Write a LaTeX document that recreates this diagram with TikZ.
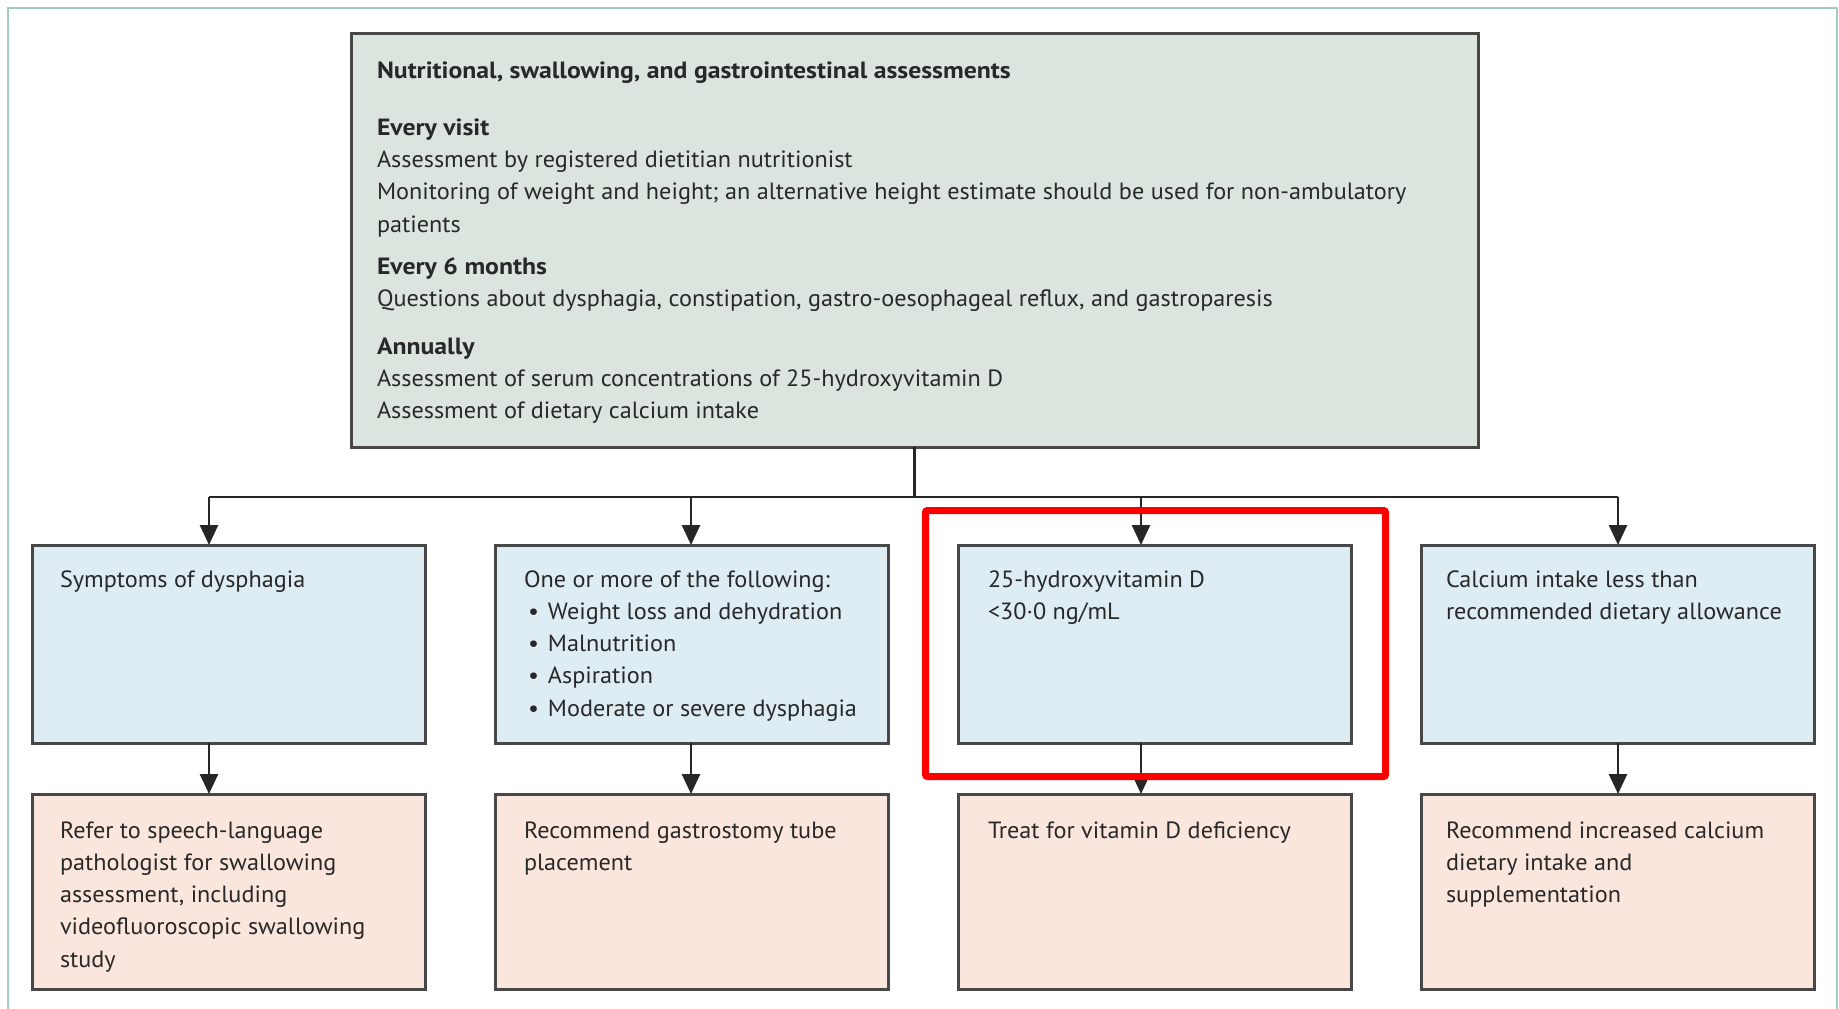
\documentclass[tikz,border=0pt]{standalone}
\usepackage{fontspec}
\setmainfont{PT Sans}[FakeStretch=1.03,BoldFeatures={FakeStretch=1.095}]
\usetikzlibrary{arrows.meta}

\definecolor{framecol}{RGB}{160,205,195}
\definecolor{topfill}{RGB}{219,229,221}
\definecolor{condfill}{RGB}{221,237,243}
\definecolor{actfill}{RGB}{251,230,221}
\definecolor{boxline}{RGB}{72,72,72}
\definecolor{inkcol}{RGB}{40,40,40}
\definecolor{markred}{RGB}{255,0,0}

% invisible strut fixing the height above the first baseline
\newcommand{\lnstrut}{\rule{0pt}{20pt}}
\newcommand{\bul}{\hspace*{4pt}\makebox[20pt][l]{•}}

\begin{document}
\begin{tikzpicture}[x=1pt,y=-1pt,
  every node/.style={inner sep=0pt,outer sep=0pt},
  panel/.style={draw=boxline,line width=3pt,rectangle,anchor=north west},
  topbox/.style={panel,fill=topfill,minimum width=1127pt,minimum height=414pt},
  condbox/.style={panel,fill=condfill,minimum width=393pt,minimum height=198pt},
  actbox/.style={panel,fill=actfill,minimum width=393pt,minimum height=195pt},
  txt/.style={anchor=north west,align=left,text=inkcol,
    font=\fontsize{23.5}{32.3}\selectfont},
  conn/.style={draw=black!85,line width=2.6pt},
  arr/.style={conn,-{Triangle[width=18pt,length=20pt]}},
  highlight/.style={draw=markred,line width=7pt,rounded corners=2pt}
]
\useasboundingbox (0,0) rectangle (1839,1009);

% outer frame, open at the bottom
\draw[framecol,line width=2pt] (8,1009) -- (8,8) -- (1837,8) -- (1837,1009);

% top assessment box
\node[topbox] (top) at (351,33) {};
\node[txt] (toptext) at ([shift={(26,25)}]top.north west) {\lnstrut\textbf{Nutritional, swallowing, and gastrointestinal assessments}\\[25pt]
\textbf{Every visit}\\
Assessment by registered dietitian nutritionist\\
Monitoring of weight and height; an alternative height estimate should be used for non-ambulatory\\
patients\\[10pt]
\textbf{Every 6 months}\\
Questions about dysphagia, constipation, gastro-oesophageal reflux, and gastroparesis\\[15pt]
\textbf{Annually}\\
Assessment of serum concentrations of 25-hydroxyvitamin D\\
Assessment of dietary calcium intake};

% condition boxes
\node[condbox] (c1) at (32,545) {};
\node[condbox] (c2) at (495,545) {};
\node[condbox] (c3) at (958,545) {};
\node[condbox] (c4) at (1421,545) {};

% action boxes
\node[actbox] (a1) at (32,794) {};
\node[actbox] (a2) at (495,794) {};
\node[actbox] (a3) at (958,794) {};
\node[actbox] (a4) at (1421,794) {};

% texts of the condition boxes
\node[txt] (c1t) at ([shift={(28,22)}]c1.north west) {\lnstrut Symptoms of dysphagia};
\node[txt] (c2t) at ([shift={(29,22)}]c2.north west) {\lnstrut One or more of the following:\\
\bul Weight loss and dehydration\\
\bul Malnutrition\\
\bul Aspiration\\
\bul Moderate or severe dysphagia};
\node[txt] (c3t) at ([shift={(30,22)}]c3.north west) {\lnstrut 25-hydroxyvitamin D\\
<30·0 ng/mL};
\node[txt] (c4t) at ([shift={(25,22)}]c4.north west) {\lnstrut Calcium intake less than\\
recommended dietary allowance};

% texts of the action boxes
\node[txt] (a1t) at ([shift={(28,24)}]a1.north west) {\lnstrut Refer to speech-language\\
pathologist for swallowing\\
assessment, including\\
videofluoroscopic swallowing\\
study};
\node[txt] (a2t) at ([shift={(29,24)}]a2.north west) {\lnstrut Recommend gastrostomy tube\\
placement};
\node[txt] (a3t) at ([shift={(30,24)}]a3.north west) {\lnstrut Treat for vitamin D deficiency};
\node[txt] (a4t) at ([shift={(25,24)}]a4.north west) {\lnstrut Recommend increased calcium\\
dietary intake and\\
supplementation};

% branching connectors
\coordinate (bus) at (914.5,497);
\coordinate (j1) at (209,497);
\coordinate (j2) at (691,497);
\coordinate (j3) at (1141,497);
\coordinate (j4) at (1618,497);

\draw[conn] (top.south) -- (bus);
\draw[conn] (j1) -- (j4);
\draw[arr] (j1) -- (j1 |- c1.north);
\draw[arr] (j2) -- (j2 |- c2.north);
\draw[arr] (j3) -- (j3 |- c3.north);
\draw[arr] (j4) -- (j4 |- c4.north);

\draw[arr] (c1.south -| j1) -- (a1.north -| j1);
\draw[arr] (c2.south -| j2) -- (a2.north -| j2);
\draw[arr] (c3.south -| j3) -- (a3.north -| j3);
\draw[arr] (c4.south -| j4) -- (a4.north -| j4);

% emphasis frame round the vitamin D branch
\draw[highlight] (925.5,510.5) rectangle (1385.5,776.5);
\end{tikzpicture}
\end{document}
